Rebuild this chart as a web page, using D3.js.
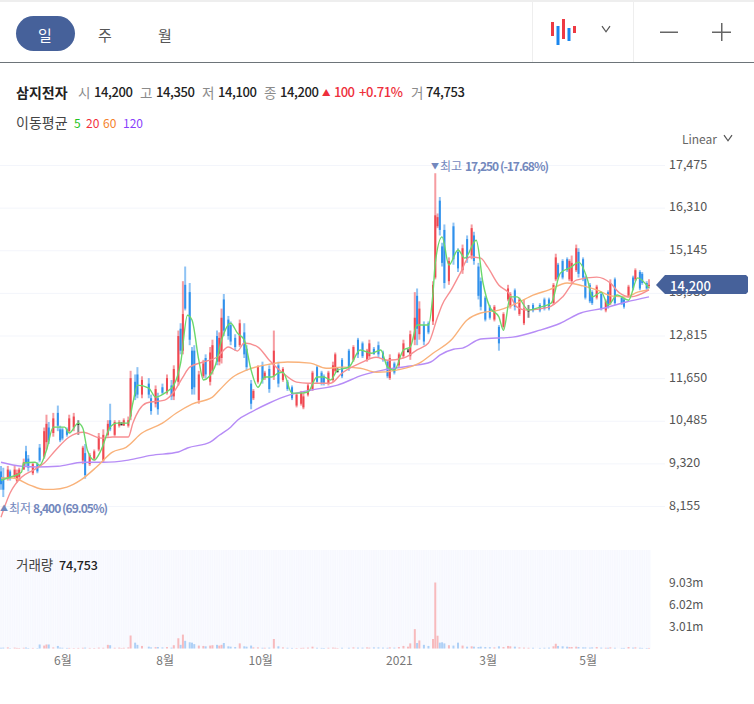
<!DOCTYPE html>
<html>
<head>
<meta charset="utf-8">
<style>
  html, body { margin: 0; padding: 0; background: #fff; }
  svg { display: block; }
  text { font-family: "Noto Sans CJK KR", "Noto Sans", sans-serif; }
</style>
<script src="https://cdn.jsdelivr.net/npm/d3@7"></script>
</head>
<body>
<script>
// daily bars, index = trading day from the left edge
var barDays = [
  0,1,3,4,6,7,8,10,11,12,
  14,16,17,19,20,21,23,25,26,27,
  29,30,32,34,36,37,39,41,43,45,
  47,48,50,52,53,54,56,57,59,60,
  62,65,66,68,69,71,73,75,76,78,
  79,80,81,83,84,85,87,89,90,92,
  93,95,96,97,98,100,101,103,105,107,
  108,110,111,113,115,116,118,120,122,124,
  126,128,130,132,133,135,137,139,141,142,
  144,146,147,148,150,153,155,157,159,161,
  162,164,166,168,170,171,173,175,177,179,
  180,182,183,184,186,188,190,191,192,193,
  194,195,197,199,201,203,205,207,208,210,
  211,213,215,217,219,221,223,224,226,228,
  230,232,234,237,239,241,243,244,245,247,
  249,250,251,253,254,256,257,259,260,262,
  264,266,267,268,270,273,274,276,278,279,
  281,282,284,285
];
var opens = [
  9100,8950,8900,9100,8950,8850,8950,9150,9650,9450,
  9050,9300,9750,9500,9900,10300,10150,10700,10250,10250,
  10250,10200,10300,10400,9400,9600,9300,9450,9700,9400,
  10100,10500,10100,10350,10400,10350,10350,10600,11550,11750,
  11200,11500,11100,10950,11100,11400,11250,11450,11150,11550,
  13000,12400,14200,14000,12400,12400,11050,11700,12200,11550,
  11850,12800,12100,12200,13800,13250,13100,12750,12550,12900,
  12450,11500,11100,11550,12000,11650,11900,11700,12000,11600,
  11550,11400,10900,10950,10850,11200,11350,11950,11800,11700,
  11500,11600,11850,11850,12150,12400,12150,12700,12600,12150,
  12250,12450,12550,12350,12100,11650,12050,12000,12250,12400,
  12250,12700,13900,12850,13100,13150,13200,14400,15800,16500,
  15250,15700,14300,15800,15100,14600,15450,15000,15550,14700,
  14300,13850,13600,13250,13050,13050,13800,13600,14050,13400,
  13150,13500,13650,13650,13800,13800,13700,14350,14750,14850,
  14900,14350,14300,14600,15100,14900,14400,14200,14000,13850,
  13950,13500,14000,13700,14350,13850,13800,13900,14400,14350,
  14550,14500,14250,14200
];
var highs = [
  9250,9200,9250,9150,9250,9150,9200,9450,9800,9550,
  9350,9350,9850,10300,10650,10450,10700,10900,10350,10300,
  10300,10650,10700,10500,9800,9850,9600,9700,10150,10250,
  10500,10950,10500,10500,10450,10550,10600,11850,11750,11950,
  11700,11650,11200,11450,11250,11500,11750,11600,12000,12950,
  13150,14300,14700,14250,12500,12550,11850,12150,12300,12500,
  12700,12950,12900,13550,13950,13350,13200,12850,13250,13150,
  12550,11600,11350,12000,12100,11850,12000,12950,12100,11950,
  11600,11450,11250,11300,11250,11500,11850,12000,11850,11750,
  11850,12100,12350,11950,12200,12450,12550,12750,12650,12450,
  12700,12500,12650,12400,12150,12300,12100,12350,12700,12450,
  12950,14000,14100,13750,13200,13200,14300,17250,16150,16600,
  15350,15850,14950,15900,15200,15300,15550,15850,15650,14800,
  14400,13900,13650,13650,13100,13450,14200,14000,14100,13850,
  13800,13650,13700,13700,13850,13850,14250,15050,14800,14900,
  14950,14900,15000,15300,15200,14950,14450,14250,14050,14200,
  14000,13800,14050,14350,14400,13900,13850,14200,14450,14650,
  14600,14550,14300,14350
];
var lows = [
  8600,8400,8850,8850,8900,8800,8850,9150,9250,9100,
  9000,9050,9350,9450,9700,9850,10050,10200,9900,9950,
  10050,10150,10200,10100,9300,8900,9250,9400,9650,9350,
  10050,10200,10050,10300,10350,10350,10300,10500,11050,11100,
  11100,11100,10650,10850,10650,11200,11200,11050,11050,11450,
  12300,12300,13500,12550,11200,11200,10950,11650,11650,11450,
  11750,12000,12000,12050,12800,12700,12550,12400,12500,12200,
  11850,10800,11050,11500,11500,11600,11250,11600,11400,11550,
  11300,11050,10850,10900,10800,11150,11300,11500,11450,11450,
  11450,11550,11800,11800,11650,11850,12100,12200,12200,12100,
  12200,12300,12200,12100,11650,11600,11750,11950,12200,12350,
  12150,12550,12550,12700,12550,12850,13100,14350,15750,15550,
  14700,14100,14200,14750,14550,14500,14800,14900,14750,13800,
  13500,13200,13250,13200,12400,13000,13750,13550,13500,13350,
  13100,13300,13450,13450,13500,13500,13650,14300,14350,14350,
  14550,14300,14250,14550,14400,14300,13800,13700,13650,13800,
  13500,13450,13550,13650,13650,13650,13550,13850,14050,14300,
  14050,14200,14050,14100
];
var closes = [
  8750,8600,9150,8900,9150,9050,9150,9350,9350,9200,
  9300,9100,9400,10200,10400,9950,10550,10350,9950,10000,
  10100,10550,10600,10400,9750,9000,9550,9650,10050,10100,
  10400,10250,10450,10450,10400,10500,10500,11650,11150,11200,
  11600,11200,10750,11350,10800,11250,11650,11150,11900,12800,
  12400,13400,13550,12700,11350,11400,11750,12050,11750,12350,
  12550,12100,12750,13300,12950,12800,12650,12500,13150,12300,
  11950,10950,11300,11950,11600,11800,11350,12400,11500,11900,
  11350,11100,11200,11250,11150,11450,11800,11550,11500,11500,
  11800,12000,12300,11850,11700,11900,12500,12300,12250,12400,
  12600,12300,12300,12150,11700,12200,11800,12300,12600,12400,
  12850,13300,13000,13550,12650,12900,14200,16100,16050,15700,
  14800,14250,14850,14900,14650,15200,14900,15750,14850,13900,
  13600,13250,13300,13600,12600,13400,14100,13950,13600,13800,
  13550,13500,13500,13500,13550,13550,14200,14950,14400,14400,
  14600,14850,14800,15200,14500,14400,13850,13750,13700,14150,
  13550,13750,13600,14250,13700,13700,13600,14150,14100,14600,
  14100,14250,14100,14200
];
// traded volume, millions of shares
var volumes = [
  .10,.12,.15,.05,.12,.08,.07,.10,.13,.07,
  .08,.06,.55,.40,.55,.55,.15,.35,.12,.10,
  .08,.08,.06,.08,.10,.12,.08,.07,.12,.10,
  .50,.45,.10,.12,.06,.10,.15,1.78,.80,.50,
  .35,.25,.15,.18,.20,.15,.20,.12,.45,1.40,
  .50,1.90,1.05,.85,.80,.60,.40,.35,.30,.40,
  .45,.50,.40,.50,.75,.30,.25,.20,.70,.30,
  .25,.40,.15,.15,.10,.10,.12,1.30,.30,.15,
  .10,.08,.07,.08,.10,.12,.25,.10,.08,.07,
  .10,.12,.10,.06,.10,.10,.15,.12,.12,.15,
  .12,.15,.15,.12,.10,.15,.12,.20,.35,.25,
  .70,2.65,.75,1.10,.50,.35,1.30,9.03,1.75,.80,
  .85,.70,.45,.40,.80,.40,.25,.30,.25,.20,
  .25,.20,.18,.15,.30,.20,.35,.30,.25,.15,
  .12,.10,.10,.08,.10,.12,.30,.65,.35,.30,
  .25,.20,.20,.25,.20,.15,.15,.12,.15,.20,
  .12,.10,.10,.15,.10,.08,.08,.20,.12,.15,
  .10,.08,.07,.075
];
var flatBars = [34, 53, 148, 179, 232];

// moving averages, read at the bends of each line
var ma5Days = [0,4,9,10,15,17,20,23,28,30,34,36,38,41,44,48,51,56,58,60,65,68,72,76,79,82,84,87,89,94,97,101,104,107,110,113,116,119,122,124,128,132,135,139,142,145,148,153,158,163,167,170,173,177,180,183,188,190,191,194,197,201,204,209,212,215,219,221,224,227,232,237,242,246,251,254,258,260,264,267,271,276,280,285];
var ma5Values = [8860,8940,9080,9330,9350,9270,9680,10310,10310,10150,10420,10280,9680,9410,9680,10310,10420,10420,10970,11460,11380,11130,11240,11460,12060,13370,13240,12140,11600,11950,12690,13150,12880,12690,11870,11400,11680,11680,11790,11810,11240,11240,11270,11680,11680,11600,11870,11950,12420,12330,12420,11950,11870,12420,12500,13100,13100,13980,14800,15510,14740,15150,14930,15420,14250,13590,13320,12960,13870,13870,13510,13590,13700,14520,14690,14820,14330,13870,14000,13650,13920,13780,14390,14110];
var ma20Days = [0,4,9,14,19,24,30,36,44,49,56,58,64,72,76,80,83,89,95,100,104,107,113,118,124,130,135,145,150,158,165,170,177,183,188,192,194,198,202,206,211,214,219,223,227,231,241,247,253,262,268,272,277,285];
var ma20Values = [7850,8510,8940,9130,9330,9680,10040,10170,10010,10040,10040,10420,10970,11050,11270,11680,11950,12090,12220,12500,12390,12610,12500,12140,11790,11540,11510,11510,11790,12060,12220,12140,12200,12420,12610,13320,13650,14060,14520,14960,14930,14690,14190,14000,13590,13510,13590,13870,14330,14410,14250,13980,13870,14060];
var ma60Days = [0,5,13,19,23,29,35,42,49,55,62,71,77,84,93,96,102,108,118,126,136,143,150,158,165,174,184,190,198,205,211,219,227,234,241,249,256,262,269,275,280,285];
var ma60Values = [8920,8920,8720,8610,8610,8670,8860,9220,9630,9760,10150,10420,10690,10940,11130,11320,11680,11870,12030,12090,12060,11920,11950,11920,11810,11870,12060,12330,12690,13240,13430,13510,13700,13920,14060,14250,14170,14060,13890,13870,14000,14060];
var ma120Days = [0,9,16,25,36,45,56,66,78,82,92,96,101,104,110,118,127,136,148,159,168,180,189,193,199,203,211,225,237,246,255,265,275,285];
var ma120Values = [9350,9240,9220,9240,9350,9350,9410,9540,9630,9740,9900,10090,10310,10500,10720,10970,11190,11320,11460,11730,11870,11980,12090,12280,12440,12470,12720,12770,12960,13150,13430,13560,13730,13870];

var priceTicks = [17475, 16310, 15145, 13980, 12815, 11650, 10485, 9320, 8155];
var volumeTicks = [9.03, 6.02, 3.01];
var monthDays = [27, 72, 114, 175, 214, 258];
var monthLabels = ['6월', '8월', '10월', '2021', '3월', '5월'];

var width = 754, height = 704;
var chartRight = 651;
var red = '#ee3a43', blue = '#2088ea';
var navy = '#46619a', labelBlue = '#7388bd';

var svg = d3.select('body').append('svg')
  .attr('width', width)
  .attr('height', height);

var x = d3.scaleLinear().domain([0, 285]).range([1, 649]);
var y = d3.scaleLinear().domain([8155, 17475]).range([506, 165]);
var yVol = d3.scaleLinear().domain([0, 9.03]).range([648.5, 582.5]);

function addText(parent, tx, ty, str, size, color, weight) {
  return parent.append('text')
    .attr('x', tx)
    .attr('y', ty)
    .attr('font-size', size)
    .attr('fill', color)
    .attr('font-weight', weight || 400)
    .attr('dominant-baseline', 'central')
    .text(str);
}

// toolbar
var bar = svg.append('g');
bar.append('rect').attr('x', 0).attr('y', 0).attr('width', width).attr('height', 2).attr('fill', '#eeeeee');
bar.append('rect').attr('x', 0).attr('y', 62).attr('width', width).attr('height', 1).attr('fill', '#6d7479');
bar.append('rect').attr('x', 532).attr('y', 2).attr('width', 1).attr('height', 60).attr('fill', '#eeeeee');
bar.append('rect').attr('x', 633).attr('y', 2).attr('width', 1).attr('height', 60).attr('fill', '#eeeeee');
bar.append('rect').attr('x', 16).attr('y', 16).attr('width', 59).attr('height', 35).attr('rx', 17.5).attr('fill', navy);
addText(bar, 45, 34, '일', 15, '#ffffff').attr('text-anchor', 'middle');
addText(bar, 105, 34, '주', 15, '#555555').attr('text-anchor', 'middle');
addText(bar, 165, 34, '월', 15, '#555555').attr('text-anchor', 'middle');

var iconBars = [[551, 22, 14, '#ee3a43'], [556.5, 26, 19, '#1a86ee'], [562, 19, 20, '#ee3a43'], [567.5, 28, 13, '#1a86ee'], [573, 26, 7, '#ee3a43']];
iconBars.forEach(function(b) {
  bar.append('rect').attr('x', b[0]).attr('y', b[1]).attr('width', 3).attr('height', b[2]).attr('fill', b[3]);
});
function chevron(cx, cy, r) {
  svg.append('path')
    .attr('d', d3.line()([[cx - r, cy - r * 0.7], [cx, cy + r * 0.7], [cx + r, cy - r * 0.7]]))
    .attr('fill', 'none')
    .attr('stroke', '#555555')
    .attr('stroke-width', 1.2);
}
chevron(606, 29, 4);
bar.append('rect').attr('x', 660).attr('y', 31.5).attr('width', 18).attr('height', 1.5).attr('fill', '#666666');
bar.append('rect').attr('x', 712).attr('y', 31.5).attr('width', 19).attr('height', 1.5).attr('fill', '#666666');
bar.append('rect').attr('x', 721).attr('y', 23).attr('width', 1.5).attr('height', 18).attr('fill', '#666666');

// quote line
var info = svg.append('g');
addText(info, 16, 91.5, '삼지전자', 14, '#222222', 700);
var grey = '#8a8a8a', dark = '#222222';
[['시', 78], ['고', 140], ['저', 202], ['종', 264], ['거', 411]].forEach(function(d) {
  addText(info, d[1], 91.5, d[0], 13.5, grey);
});
[['14,200', 94], ['14,350', 156], ['14,100', 218], ['14,200', 280], ['74,753', 426]].forEach(function(d) {
  addText(info, d[1], 91.5, d[0], 13, dark, 500).attr('textLength', 39);
});
addText(info, 322, 91.5, '▲', 8.5, '#ee2f3b');
addText(info, 334, 91.5, '100', 13, '#ee2f3b', 500).attr('textLength', 21);
addText(info, 359, 91.5, '+0.71%', 13, '#ee2f3b', 500).attr('textLength', 44);

addText(info, 16, 121.5, '이동평균', 14, '#444444');
addText(info, 74, 122, '5', 12, '#22c322');
addText(info, 86, 122, '20', 12, '#f2303c');
addText(info, 103, 122, '60', 12, '#f5822a');
addText(info, 123, 122, '120', 12, '#8a3ffc');

addText(info, 717, 138, 'Linear', 12, '#666666').attr('text-anchor', 'end');
chevron(728, 138, 4);

// price gridlines and labels
var yAxis = d3.axisRight(y)
  .tickValues(priceTicks)
  .tickFormat(d3.format(','))
  .tickSize(0)
  .tickPadding(669);
var yG = svg.append('g').call(yAxis);
yG.select('.domain').remove();
yG.selectAll('text').attr('font-size', 12.5).attr('fill', '#555555').attr('font-family', '"Noto Sans CJK KR"').attr('dy', '0.24em');
yG.selectAll('.tick').append('line')
  .attr('x1', 0)
  .attr('x2', 665)
  .attr('stroke', '#f3f5fb');

// volume pane
var volPane = svg.append('g');
volPane.append('rect').attr('x', 0).attr('y', 550).attr('width', chartRight).attr('height', 98.5).attr('fill', '#fbfcff');
volPane.selectAll('rect.slot')
  .data(d3.range(286))
  .enter()
  .append('rect')
  .attr('class', 'slot')
  .attr('x', function(d) { return x(d) - 0.8; })
  .attr('y', 550)
  .attr('width', 1.6)
  .attr('height', 98.5)
  .attr('fill', '#f7f8fe');

var rows = barDays.map(function(day, i) {
  return { day: day, open: opens[i], high: highs[i], low: lows[i], close: closes[i], vol: volumes[i] };
});

function barColor(d) {
  if (flatBars.indexOf(d.day) >= 0) return '#111111';
  return d.close >= d.open ? red : blue;
}

volPane.selectAll('rect.vol')
  .data(rows)
  .enter()
  .append('rect')
  .attr('class', 'vol')
  .attr('x', function(d) { return x(d.day) - 1; })
  .attr('y', function(d) { return yVol(d.vol); })
  .attr('width', 2)
  .attr('height', function(d) { return yVol(0) - yVol(d.vol); })
  .attr('fill', function(d) { return d.close >= d.open ? '#f7babd' : '#aed0f6'; });

addText(volPane, 16, 564, '거래량', 13.5, '#444444');
addText(volPane, 59, 564, '74,753', 12.5, '#222222', 500).attr('textLength', 39);

var volAxis = d3.axisRight(yVol)
  .tickValues(volumeTicks)
  .tickFormat(function(d) { return d.toFixed(2) + 'm'; })
  .tickSize(0)
  .tickPadding(669);
var volG = svg.append('g').call(volAxis);
volG.select('.domain').remove();
volG.selectAll('text').attr('font-size', 12).attr('fill', '#555555').attr('font-family', '"Noto Sans CJK KR"');

var xAxis = d3.axisBottom(x)
  .tickValues(monthDays)
  .tickFormat(function(d, i) { return monthLabels[i]; })
  .tickSize(0)
  .tickPadding(5);
var xG = svg.append('g').attr('transform', 'translate(0,651)').call(xAxis);
xG.select('.domain').remove();
xG.selectAll('text').attr('font-size', 12).attr('fill', '#777777').attr('font-family', '"Noto Sans CJK KR"');

// candles
var candles = svg.append('g').selectAll('g')
  .data(rows)
  .enter()
  .append('g');
candles.append('line')
  .attr('x1', function(d) { return x(d.day); })
  .attr('x2', function(d) { return x(d.day); })
  .attr('y1', function(d) { return y(d.high); })
  .attr('y2', function(d) { return y(d.low); })
  .attr('stroke', barColor)
  .attr('stroke-opacity', 0.5)
  .attr('stroke-width', 2);
candles.append('rect')
  .attr('x', function(d) { return x(d.day) - 1; })
  .attr('y', function(d) { return y(Math.max(d.open, d.close)); })
  .attr('width', 2)
  .attr('height', function(d) { return Math.max(1, Math.abs(y(d.open) - y(d.close))); })
  .attr('fill', barColor)
  .attr('fill-opacity', 0.85);

// moving average lines
var maLine = d3.line()
  .x(function(d) { return x(d[0]); })
  .y(function(d) { return y(d[1]); })
  .curve(d3.curveMonotoneX);
[
  [ma120Days, ma120Values, '#b68cf6'],
  [ma60Days, ma60Values, '#f9b27a'],
  [ma20Days, ma20Values, '#f78f92'],
  [ma5Days, ma5Values, '#6bd86b']
].forEach(function(m) {
  svg.append('path')
    .attr('d', maLine(d3.zip(m[0], m[1])))
    .attr('fill', 'none')
    .attr('stroke', m[2])
    .attr('stroke-width', 1.4);
});

// high and low labels
addText(svg, 431, 165, '▼', 8, labelBlue);
addText(svg, 440, 165, '최고', 12, labelBlue);
addText(svg, 465, 165, '17,250 (-17.68%)', 12, labelBlue, 700).attr('textLength', 84);
addText(svg, 0, 507, '▲', 8, labelBlue);
addText(svg, 9, 507, '최저', 12, labelBlue);
addText(svg, 33, 507, '8,400 (69.05%)', 12, labelBlue, 700).attr('textLength', 75);

// last price tag
svg.append('path')
  .attr('d', d3.line()([[656, 285], [665, 275], [746, 275], [748, 277], [748, 292], [746, 294], [665, 294]]) + 'Z')
  .attr('fill', navy);
addText(svg, 670, 285, '14,200', 13, '#ffffff', 500);
</script>
</body>
</html>
